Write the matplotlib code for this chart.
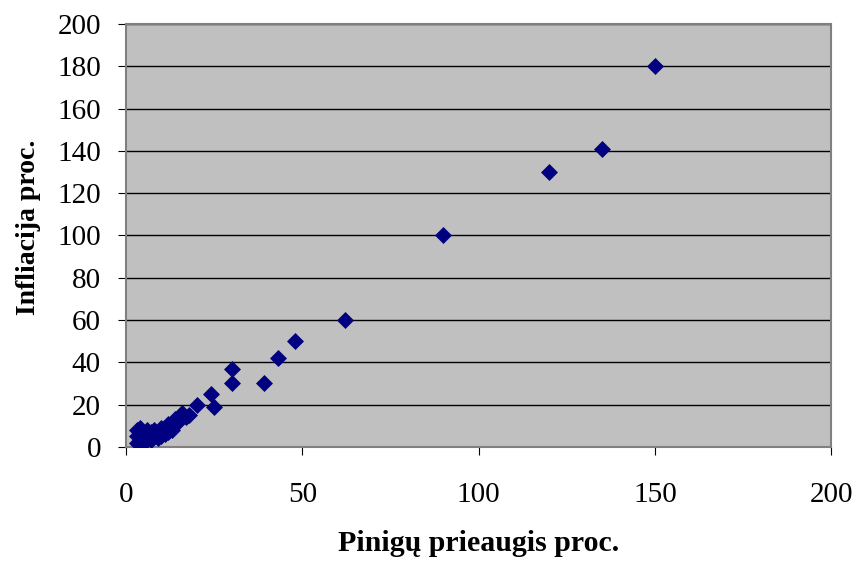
import matplotlib
matplotlib.use("Agg")
import matplotlib.pyplot as plt

# money growth (%) vs inflation (%)
money = [150, 135, 120, 90, 62, 48, 43, 39, 30, 30, 25, 24, 20, 18, 17, 16, 15,
         3, 3, 3, 4, 4, 5, 5, 6, 6, 7, 7, 8, 8, 9, 9, 10, 10, 10, 11, 11,
         12, 12, 12, 13, 13, 14, 14, 15, 5, 4]
inflation = [180, 141, 130, 100, 60, 50, 42, 30, 37, 30, 19, 25, 20, 15, 14, 16, 13,
             2, 5, 8, 9, 3, 2, 6, 4, 8, 7, 3, 5, 8, 4, 6, 5, 7, 9, 8, 6,
             9, 7, 11, 10, 8, 11, 13, 12, 4, 6]

plt.rcParams['font.family'] = 'Liberation Serif'

fig = plt.figure(figsize=(8.57, 5.62), dpi=100)
ax = fig.add_axes([0.147, 0.205, 0.823, 0.752])
ax.set_facecolor('#C0C0C0')

ax.scatter(money, inflation, marker='D', s=75, color='#000080', zorder=3, linewidths=0)

ax.set_xlim(0, 200)
ax.set_ylim(0, 200)
ax.set_xticks([0, 50, 100, 150, 200])
ax.set_yticks(range(0, 201, 20))
ax.yaxis.grid(True, color='black', linewidth=1)
ax.set_axisbelow(True)

for s in ax.spines.values():
    s.set_color('#808080')
    s.set_linewidth(1.5)

ax.tick_params(labelsize=21, direction='out', length=6, color='black', pad=12)
ax.tick_params(axis='x', pad=19)

ax.set_xlabel('Pinigų prieaugis proc.', fontsize=21.5, fontweight='bold', labelpad=16)
ax.set_ylabel('Infliacija proc.', fontsize=20, fontweight='bold', labelpad=12)
ax.yaxis.label.set_y(0.52)

fig.savefig('out.png', dpi=100)
